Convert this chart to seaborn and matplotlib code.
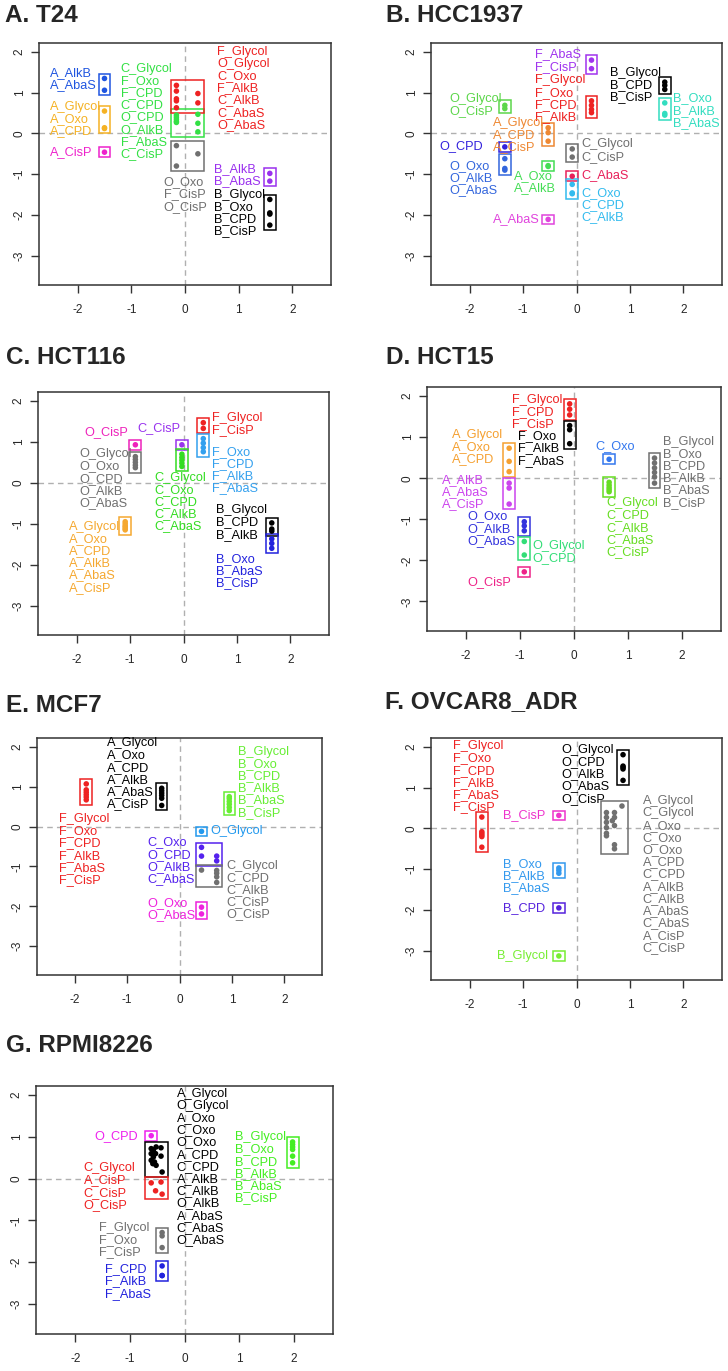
#coding:utf8

import matplotlib
matplotlib.use("Agg")
import matplotlib.pyplot as plt
from matplotlib.patches import Rectangle
import seaborn as sns
import pandas as pd

# A. T24
t24_noms = ["A_AlkB", "A_AbaS",
            "A_Glycol", "A_Oxo", "A_CPD",
            "A_CisP",
            "C_Glycol", "F_Oxo", "F_CPD", "C_CPD", "O_CPD", "O_AlkB", "F_AbaS", "C_CisP",
            "F_Glycol", "O_Glycol", "C_Oxo", "F_AlkB", "C_AlkB", "C_AbaS", "O_AbaS",
            "O_Oxo", "F_CisP", "O_CisP",
            "B_AlkB", "B_AbaS",
            "B_Glycol", "B_Oxo", "B_CPD", "B_CisP"]
t24_x = [-1.5, -1.5, -1.5, -1.5, -1.5, -1.5,
         -0.16, -0.16, -0.16, -0.16, -0.16, 0.24, 0.24, 0.24,
         -0.16, -0.16, -0.16, -0.16, -0.16, 0.24, 0.24,
         -0.16, -0.16, 0.24,
         1.58, 1.58, 1.58, 1.58, 1.58, 1.58]
t24_y = [1.35, 1.06, 0.55, 0.14, 0.12, -0.46,
         0.45, 0.40, 0.35, 0.30, 0.27, 0.47, 0.25, 0.04,
         1.18, 1.04, 0.85, 0.80, 0.63, 0.98, 0.75,
         -0.30, -0.80, -0.50,
         -0.98, -1.17, -1.62, -1.95, -1.98, -2.25]
t24_groupe = [0, 0, 1, 1, 1, 2, 3, 3, 3, 3, 3, 3, 3, 3, 4, 4, 4, 4, 4, 4, 4,
              5, 5, 5, 6, 6, 7, 7, 7, 7]

# B. HCC1937
hcc_noms = ["F_AbaS", "F_CisP",
            "F_Glycol", "F_Oxo", "F_CPD", "F_AlkB",
            "B_Glycol", "B_CPD", "B_CisP",
            "B_Oxo", "B_AlkB", "B_AbaS",
            "O_Glycol", "O_CisP",
            "A_Glycol", "A_CPD", "A_CisP",
            "O_CPD",
            "O_Oxo", "O_AlkB", "O_AbaS",
            "A_Oxo", "A_AlkB",
            "C_Glycol", "C_CisP",
            "C_AbaS",
            "C_Oxo", "C_CPD", "C_AlkB",
            "A_AbaS"]
hcc_x = [0.28, 0.28, 0.28, 0.28, 0.28, 0.28, 1.65, 1.65, 1.65, 1.65, 1.65, 1.65,
         -1.34, -1.34, -0.53, -0.53, -0.53, -1.34, -1.34, -1.34, -1.34,
         -0.53, -0.53, -0.08, -0.08, -0.08, -0.08, -0.08, -0.08, -0.53]
hcc_y = [1.80, 1.59, 0.80, 0.69, 0.59, 0.51, 1.26, 1.18, 1.08, 0.75, 0.49, 0.45,
         0.69, 0.61, 0.14, 0.02, -0.19, -0.33, -0.62, -0.86, -0.90,
         -0.79, -0.81, -0.38, -0.58, -1.05, -1.25, -1.46, -1.48, -2.11]
hcc_groupe = [0, 0, 1, 1, 1, 1, 2, 2, 2, 3, 3, 3, 4, 4, 5, 5, 5, 6, 7, 7, 7,
              8, 8, 9, 9, 10, 11, 11, 11, 12]

# C. HCT116
hct116_noms = ["O_CisP",
               "O_Glycol", "O_Oxo", "O_CPD", "O_AlkB", "O_AbaS",
               "C_CisP",
               "C_Glycol", "C_Oxo", "C_CPD", "C_AlkB", "C_AbaS",
               "F_Glycol", "F_CisP",
               "F_Oxo", "F_CPD", "F_AlkB", "F_AbaS",
               "A_Glycol", "A_Oxo", "A_CPD", "A_AlkB", "A_AbaS", "A_CisP",
               "B_Glycol", "B_CPD", "B_AlkB",
               "B_Oxo", "B_AbaS", "B_CisP"]
hct116_x = [-0.90, -0.90, -0.90, -0.90, -0.90, -0.90, -0.03,
            -0.03, -0.03, -0.03, -0.03, -0.03, 0.37, 0.37, 0.37, 0.37, 0.37, 0.37,
            -1.09, -1.09, -1.09, -1.09, -1.09, -1.09,
            1.65, 1.65, 1.65, 1.65, 1.65, 1.65]
hct116_y = [0.93, 0.64, 0.57, 0.50, 0.43, 0.37, 0.93,
            0.70, 0.62, 0.55, 0.48, 0.40, 1.47, 1.33, 1.08, 0.97, 0.86, 0.76,
            -0.95, -1.00, -1.05, -1.08, -1.12, -1.15,
            -0.98, -1.13, -1.18, -1.37, -1.48, -1.60]
hct116_groupe = [0, 1, 1, 1, 1, 1, 2, 3, 3, 3, 3, 3, 4, 4, 5, 5, 5, 5,
                 6, 6, 6, 6, 6, 6, 7, 7, 7, 8, 8, 8]

# D. HCT15
hct15_noms = ["F_Glycol", "F_CPD", "F_CisP",
              "F_Oxo", "F_AlkB", "F_AbaS",
              "A_Glycol", "A_Oxo", "A_CPD",
              "A_AlkB", "A_AbaS", "A_CisP",
              "O_Oxo", "O_AlkB", "O_AbaS",
              "O_Glycol", "O_CPD",
              "O_CisP",
              "C_Oxo",
              "C_Glycol", "C_CPD", "C_AlkB", "C_AbaS", "C_CisP",
              "B_Glycol", "B_Oxo", "B_CPD", "B_AlkB", "B_AbaS", "B_CisP"]
hct15_x = [-0.08, -0.08, -0.08, -0.08, -0.08, -0.08, -1.20, -1.20, -1.20, -1.20, -1.20, -1.20,
           -0.92, -0.92, -0.92, -0.92, -0.92, -0.92, 0.65,
           0.65, 0.65, 0.65, 0.65, 0.65, 1.49, 1.49, 1.49, 1.49, 1.49, 1.49]
hct15_y = [1.81, 1.68, 1.54, 1.28, 1.18, 0.84, 0.73, 0.41, 0.16, -0.12, -0.24, -0.63,
           -1.06, -1.16, -1.28, -1.54, -1.87, -2.28, 0.46,
           -0.10, -0.17, -0.23, -0.28, -0.33, 0.49, 0.37, 0.25, 0.14, 0.03, -0.12]
hct15_groupe = [0, 0, 0, 1, 1, 1, 2, 2, 2, 3, 3, 3, 4, 4, 4, 5, 5, 6, 7,
                8, 8, 8, 8, 8, 9, 9, 9, 9, 9, 9]

# E. MCF7
mcf7_noms = ["F_Glycol", "F_Oxo", "F_CPD", "F_AlkB", "F_AbaS", "F_CisP",
             "A_Glycol", "A_Oxo", "A_CPD", "A_AlkB", "A_AbaS", "A_CisP",
             "B_Glycol", "B_Oxo", "B_CPD", "B_AlkB", "B_AbaS", "B_CisP",
             "O_Glycol",
             "C_Oxo", "O_CPD", "O_AlkB", "C_AbaS",
             "C_Glycol", "C_CPD", "C_AlkB", "C_CisP", "O_CisP",
             "O_Oxo", "O_AbaS"]
mcf7_x = [-1.78, -1.78, -1.78, -1.78, -1.78, -1.78,
          -0.34, -0.34, -0.34, -0.34, -0.34, -0.34,
          0.95, 0.95, 0.95, 0.95, 0.95, 0.95, 0.42,
          0.42, 0.42, 0.71, 0.71, 0.42, 0.71, 0.71, 0.71, 0.71, 0.42, 0.42]
mcf7_y = [1.07, 0.92, 0.86, 0.80, 0.74, 0.67,
          0.96, 0.90, 0.84, 0.78, 0.71, 0.53,
          0.75, 0.70, 0.63, 0.56, 0.48, 0.40, -0.12,
          -0.52, -0.74, -0.74, -0.86, -1.09, -1.10, -1.17, -1.26, -1.40, -2.02, -2.19]
mcf7_groupe = [0, 0, 0, 0, 0, 0, 1, 1, 1, 1, 1, 1, 2, 2, 2, 2, 2, 2, 3,
               4, 4, 4, 4, 5, 5, 5, 5, 5, 6, 6]

# F. OVCAR8_ADR
ovcar_noms = ["F_Glycol", "F_Oxo", "F_CPD", "F_AlkB", "F_AbaS", "F_CisP",
              "O_Glycol", "O_CPD", "O_AlkB", "O_AbaS", "O_CisP",
              "B_CisP",
              "A_Glycol", "C_Glycol", "A_Oxo", "C_Oxo", "O_Oxo", "A_CPD", "C_CPD",
              "A_AlkB", "C_AlkB", "A_AbaS", "C_AbaS", "A_CisP", "C_CisP",
              "B_Oxo", "B_AlkB", "B_AbaS",
              "B_CPD",
              "B_Glycol"]
ovcar_x = [-1.77, -1.77, -1.77, -1.77, -1.77, -1.77,
           0.87, 0.87, 0.87, 0.87, 0.87, -0.33,
           0.85, 0.56, 0.71, 0.56, 0.67, 0.56, 0.71, 0.56, 0.71, 0.56, 0.56, 0.71, 0.71,
           -0.33, -0.33, -0.33, -0.33, -0.33]
ovcar_y = [0.28, -0.08, -0.12, -0.16, -0.20, -0.46,
           1.81, 1.53, 1.50, 1.46, 1.18, 0.32,
           0.55, 0.39, 0.39, 0.27, 0.19, 0.15, 0.27, 0.02, 0.07, -0.12, -0.18, -0.40, -0.50,
           -0.97, -1.03, -1.10, -1.95, -3.13]
ovcar_groupe = [0, 0, 0, 0, 0, 0, 1, 1, 1, 1, 1, 2,
                3, 3, 3, 3, 3, 3, 3, 3, 3, 3, 3, 3, 3, 4, 4, 4, 5, 6]

# G. RPMI8226
rpmi_noms = ["O_CPD",
             "A_Glycol", "O_Glycol", "A_Oxo", "C_Oxo", "O_Oxo", "A_CPD", "C_CPD",
             "A_AlkB", "C_AlkB", "O_AlkB", "A_AbaS", "C_AbaS", "O_AbaS",
             "C_Glycol", "A_CisP", "C_CisP", "O_CisP",
             "F_Glycol", "F_Oxo", "F_CisP",
             "F_CPD", "F_AlkB", "F_AbaS",
             "B_Glycol", "B_Oxo", "B_CPD", "B_AlkB", "B_AbaS", "B_CisP"]
rpmi_x = [-0.61,
          -0.61, -0.57, -0.52, -0.43, -0.61, -0.57, -0.43, -0.61, -0.55, -0.52, -0.58, -0.41, -0.53,
          -0.61, -0.43, -0.53, -0.41, -0.41, -0.41, -0.41, -0.41, -0.41, -0.41,
          1.98, 1.98, 1.98, 1.98, 1.98, 1.98]
rpmi_y = [1.03,
          0.72, 0.69, 0.76, 0.74, 0.60, 0.52, 0.54, 0.44, 0.40, 0.32, 0.36, 0.16, 0.60,
          -0.10, -0.08, -0.29, -0.37, -1.29, -1.37, -1.65, -2.09, -2.32, -2.32,
          0.88, 0.82, 0.76, 0.70, 0.54, 0.38]
rpmi_groupe = [0, 1, 1, 1, 1, 1, 1, 1, 1, 1, 1, 1, 1, 1, 2, 2, 2, 2, 3, 3, 3, 4, 4, 4,
               5, 5, 5, 5, 5, 5]

# couleurs et position des étiquettes (par groupe)
GRIS = "#707070"
t24_couleurs = ["#1f55e0", "#f5b224", "#ee22cc", "#33e044", "#ee2222", GRIS, "#9a30ee", "black"]
t24_ancres = [(-2.52, 1.49), (-2.52, 0.66), (-2.52, -0.46), (-1.2, 1.59), (0.6, 2.01),
              (-0.4, -1.2), (0.54, -0.87), (0.54, -1.5)]
hcc_couleurs = ["#a033ee", "#ee2222", "black", "#33ddc0", "#5cd64a", "#ee8833", "#3322dd",
                "#3366dd", "#44dd55", GRIS, "#e8205a", "#33bbee", "#e044dd"]
hcc_ancres = [(-0.77, 1.94), (-0.77, 1.30), (0.62, 1.49), (1.81, 0.86), (-2.37, 0.84),
              (-1.56, 0.26), (-2.57, -0.31), (-2.37, -0.80), (-1.17, -1.05), (0.09, -0.27),
              (0.09, -1.03), (0.09, -1.46), (-1.56, -2.11)]
hct116_couleurs = ["#ee22bb", GRIS, "#9933ee", "#33dd22", "#ee2222", "#33a0ee", "#f5a830",
                   "black", "#2222dd"]
hct116_ancres = [(-1.86, 1.23), (-1.94, 0.70), (-0.86, 1.34), (-0.55, 0.13), (0.53, 1.58),
                 (0.53, 0.76), (-2.14, -1.07), (0.61, -0.67), (0.61, -1.86)]
hct15_couleurs = ["#ee2222", "black", "#f5a030", "#cc44ee", "#3333dd", "#33dd77", "#ee2288",
                  "#3377ee", "#66dd22", GRIS]
hct15_ancres = [(-1.15, 1.91), (-1.03, 1.02), (-2.25, 1.06), (-2.45, -0.04), (-1.98, -0.93),
                (-0.77, -1.64), (-1.98, -2.54), (0.40, 0.77), (0.60, -0.61), (1.65, 0.89)]
mcf7_couleurs = ["#ee2222", "black", "#66ee33", "#2299ee", "#5522ee", GRIS, "#ee22dd"]
mcf7_ancres = [(-2.30, 0.19), (-1.38, 2.09), (1.11, 1.88), (0.58, -0.11), (-0.62, -0.40),
               (0.89, -0.98), (-0.62, -1.92)]
ovcar_couleurs = ["#ee2222", "black", "#ee33cc", GRIS, "#3399ee", "#5522dd", "#77ee33"]
ovcar_ancres = [(-2.30, 2.02), (-0.29, 1.93), (-1.38, 0.33), (1.24, 0.67), (-1.38, -0.87),
                (-1.38, -1.95), (-1.48, -3.13)]
rpmi_couleurs = ["#ee22ee", "black", "#ee2222", GRIS, "#2222dd", "#44ee22"]
rpmi_ancres = [(-1.65, 1.03), (-0.14, 2.04), (-1.85, 0.25), (-1.56, -1.17), (-1.46, -2.17),
               (0.93, 0.99)]

sns.set_style("ticks")
plt.rcParams["font.family"] = ["Liberation Sans", "DejaVu Sans"]
plt.rcParams["axes.unicode_minus"] = False

W, H = 728, 1371
PAD_X, PAD_Y = 0.11, 0.12


def tracer_panneau(ax, noms, xs, ys, groupes, couleurs, ancres):
    df = pd.DataFrame({"x": xs, "y": ys, "g": groupes, "nom": noms})
    ax.axhline(0, color="#b0b0b0", lw=1, ls=(0, (4, 3)), zorder=0)
    ax.axvline(0, color="#b0b0b0", lw=1, ls=(0, (4, 3)), zorder=0)
    sns.scatterplot(data=df, x="x", y="y", hue="g", palette=dict(enumerate(couleurs)),
                    legend=False, s=16, linewidth=0, ax=ax, zorder=3)
    for g, sub in df.groupby("g"):
        col = couleurs[g]
        x0, x1 = sub.x.min() - PAD_X, sub.x.max() + PAD_X
        y0, y1 = sub.y.min() - PAD_Y, sub.y.max() + PAD_Y
        ax.add_patch(Rectangle((x0, y0), x1 - x0, y1 - y0, fill=False, ec=col, lw=1.1, zorder=2))
        xa, ya = ancres[g]
        for i, nom in enumerate(sub.nom):
            ax.annotate(nom, (xa, ya), xytext=(0, -i * 8.8), textcoords="offset points",
                        ha="left", va="center", fontsize=9.2, color=col, zorder=4)
    ax.set_xlim(-2.72, 2.72)
    ax.set_ylim(-3.72, 2.22)
    ax.set_xticks([-2, -1, 0, 1, 2])
    ax.set_yticks([-3, -2, -1, 0, 1, 2])
    ax.set_xlabel("")
    ax.set_ylabel("")
    ax.tick_params(axis="both", length=5.5, width=1, labelsize=8.5, color="#333333")
    ax.tick_params(axis="x", pad=8)
    ax.tick_params(axis="y", pad=4, labelrotation=90)
    for lab in ax.get_yticklabels():
        lab.set_verticalalignment("center")
    for sp in ax.spines.values():
        sp.set_visible(True)
        sp.set_linewidth(1.1)
        sp.set_color("#333333")


panneaux = [
    ("A. T24", (5, 15), (39, 43, 331, 285), t24_noms, t24_x, t24_y, t24_groupe, t24_couleurs, t24_ancres),
    ("B. HCC1937", (386, 15), (431, 43, 722, 285), hcc_noms, hcc_x, hcc_y, hcc_groupe, hcc_couleurs, hcc_ancres),
    ("C. HCT116", (6, 358), (38, 392, 329, 635), hct116_noms, hct116_x, hct116_y, hct116_groupe, hct116_couleurs, hct116_ancres),
    ("D. HCT15", (386, 358), (427, 387, 721, 631), hct15_noms, hct15_x, hct15_y, hct15_groupe, hct15_couleurs, hct15_ancres),
    ("E. MCF7", (6, 705), (37, 738, 322, 975), mcf7_noms, mcf7_x, mcf7_y, mcf7_groupe, mcf7_couleurs, mcf7_ancres),
    ("F. OVCAR8_ADR", (385, 702), (431, 738, 722, 980), ovcar_noms, ovcar_x, ovcar_y, ovcar_groupe, ovcar_couleurs, ovcar_ancres),
    ("G. RPMI8226", (6, 1045), (36, 1086, 333, 1334), rpmi_noms, rpmi_x, rpmi_y, rpmi_groupe, rpmi_couleurs, rpmi_ancres),
]

fig = plt.figure(figsize=(W / 100, H / 100), dpi=100)
for titre, (tx, ty), (l, t, r, b), noms, xs, ys, grp, cols, ancres in panneaux:
    ax = fig.add_axes([l / W, 1 - b / H, (r - l) / W, (b - t) / H])
    tracer_panneau(ax, noms, xs, ys, grp, cols, ancres)
    fig.text(tx / W, 1 - ty / H, titre, fontsize=17.5, fontweight="bold", ha="left", va="center")

fig.savefig("out.png", dpi=100, facecolor="white")
